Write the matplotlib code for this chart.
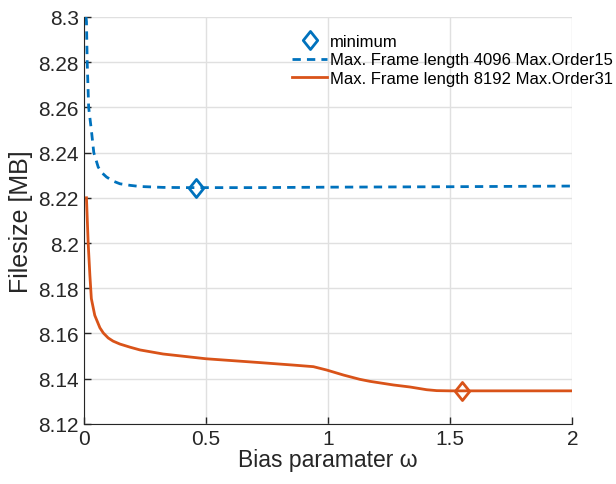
import matplotlib
matplotlib.use('Agg')
import matplotlib.pyplot as plt
from matplotlib.lines import Line2D
from matplotlib.path import Path

plt.rcParams['font.family'] = ['Liberation Sans', 'DejaVu Sans']

# Max. Frame length 4096, Max.Order 15
x_4096 = [0.009, 0.011, 0.014, 0.020, 0.031, 0.041, 0.059, 0.075, 0.093, 0.12,
          0.148, 0.19, 0.23, 0.325, 0.43, 0.7, 1.0, 1.5, 2.0]
y_4096 = [8.300, 8.298, 8.280, 8.260, 8.250, 8.240, 8.2336, 8.231, 8.2292, 8.2274,
          8.2262, 8.2255, 8.2250, 8.2246, 8.2245, 8.2245, 8.2247, 8.2249, 8.2252]

# Max. Frame length 8192, Max.Order 31
x_8192 = [0.011, 0.018, 0.025, 0.031, 0.045, 0.066, 0.08, 0.1, 0.12, 0.148, 0.19,
          0.23, 0.325, 0.5, 0.721, 0.858, 0.94, 0.995, 1.063, 1.13, 1.172,
          1.268, 1.336, 1.404, 1.445, 1.5, 2.0]
y_8192 = [8.2200, 8.2000, 8.1857, 8.1754, 8.1680, 8.1625, 8.1602, 8.1580, 8.1566, 8.1553, 8.1539,
          8.1527, 8.1509, 8.1488, 8.1471, 8.1460, 8.1453, 8.1438, 8.1416, 8.1397, 8.1388,
          8.1372, 8.1363, 8.1351, 8.1347, 8.1346, 8.1346]

min_x = [0.46, 1.55]
min_y = [8.2244, 8.1346]

labels = ['minimum',
          'Max. Frame length 4096 Max.Order15',
          'Max. Frame length 8192 Max.Order31']

blue = '#0072BD'
orange = '#D95319'

# matlab style diamond
diamond = Path([(0, 1), (0.8, 0), (0, -1), (-0.8, 0), (0, 1)],
               [Path.MOVETO, Path.LINETO, Path.LINETO, Path.LINETO, Path.CLOSEPOLY])

fig = plt.figure(figsize=(6.16, 4.85), dpi=100)
ax = fig.add_axes([0.136, 0.124, 0.793, 0.839])

ax.plot(x_4096, y_4096, '--', color=blue, lw=2, dashes=(3, 2.2))
ax.plot(x_8192, y_8192, '-', color=orange, lw=2)
ax.plot(min_x[0], min_y[0], marker=diamond, ms=13, mfc='none', mec=blue, mew=2, ls='none')
ax.plot(min_x[1], min_y[1], marker=diamond, ms=13, mfc='none', mec=orange, mew=2, ls='none')

ax.set_xlim(0, 2)
ax.set_ylim(8.12, 8.3)
ax.set_xticks([0, 0.5, 1, 1.5, 2])
ax.set_xticklabels(['0', '0.5', '1', '1.5', '2'])
yt = [8.12, 8.14, 8.16, 8.18, 8.2, 8.22, 8.24, 8.26, 8.28, 8.3]
ax.set_yticks(yt)
ax.set_yticklabels(['%g' % v for v in yt])
ax.tick_params(direction='in', labelsize=15, color='#262626', labelcolor='#262626',
               length=5, width=1)
ax.grid(True, color='#e0e0e0', lw=1)
ax.set_axisbelow(True)
for s in ['top', 'right']:
    ax.spines[s].set_visible(False)
for s in ['left', 'bottom']:
    ax.spines[s].set_color('#262626')

ax.set_xlabel('Bias paramater ω', fontsize=16.5, color='#262626', labelpad=0)
ax.set_ylabel('Filesize [MB]', fontsize=18, color='#262626', labelpad=4)

handles = [Line2D([], [], marker=diamond, ms=13, mfc='none', mec=blue, mew=2, ls='none'),
           Line2D([], [], color=blue, ls='--', lw=2, dashes=(3, 2.2)),
           Line2D([], [], color=orange, lw=2)]
fig.legend(handles, labels, loc='upper left', bbox_to_anchor=(292 / 616, 1 - 35 / 485),
           bbox_transform=fig.transFigure, frameon=False, fontsize=12,
           borderpad=0, borderaxespad=0, handlelength=2.1, handletextpad=0.2,
           labelspacing=0.2)

fig.savefig('out.png', dpi=100)
